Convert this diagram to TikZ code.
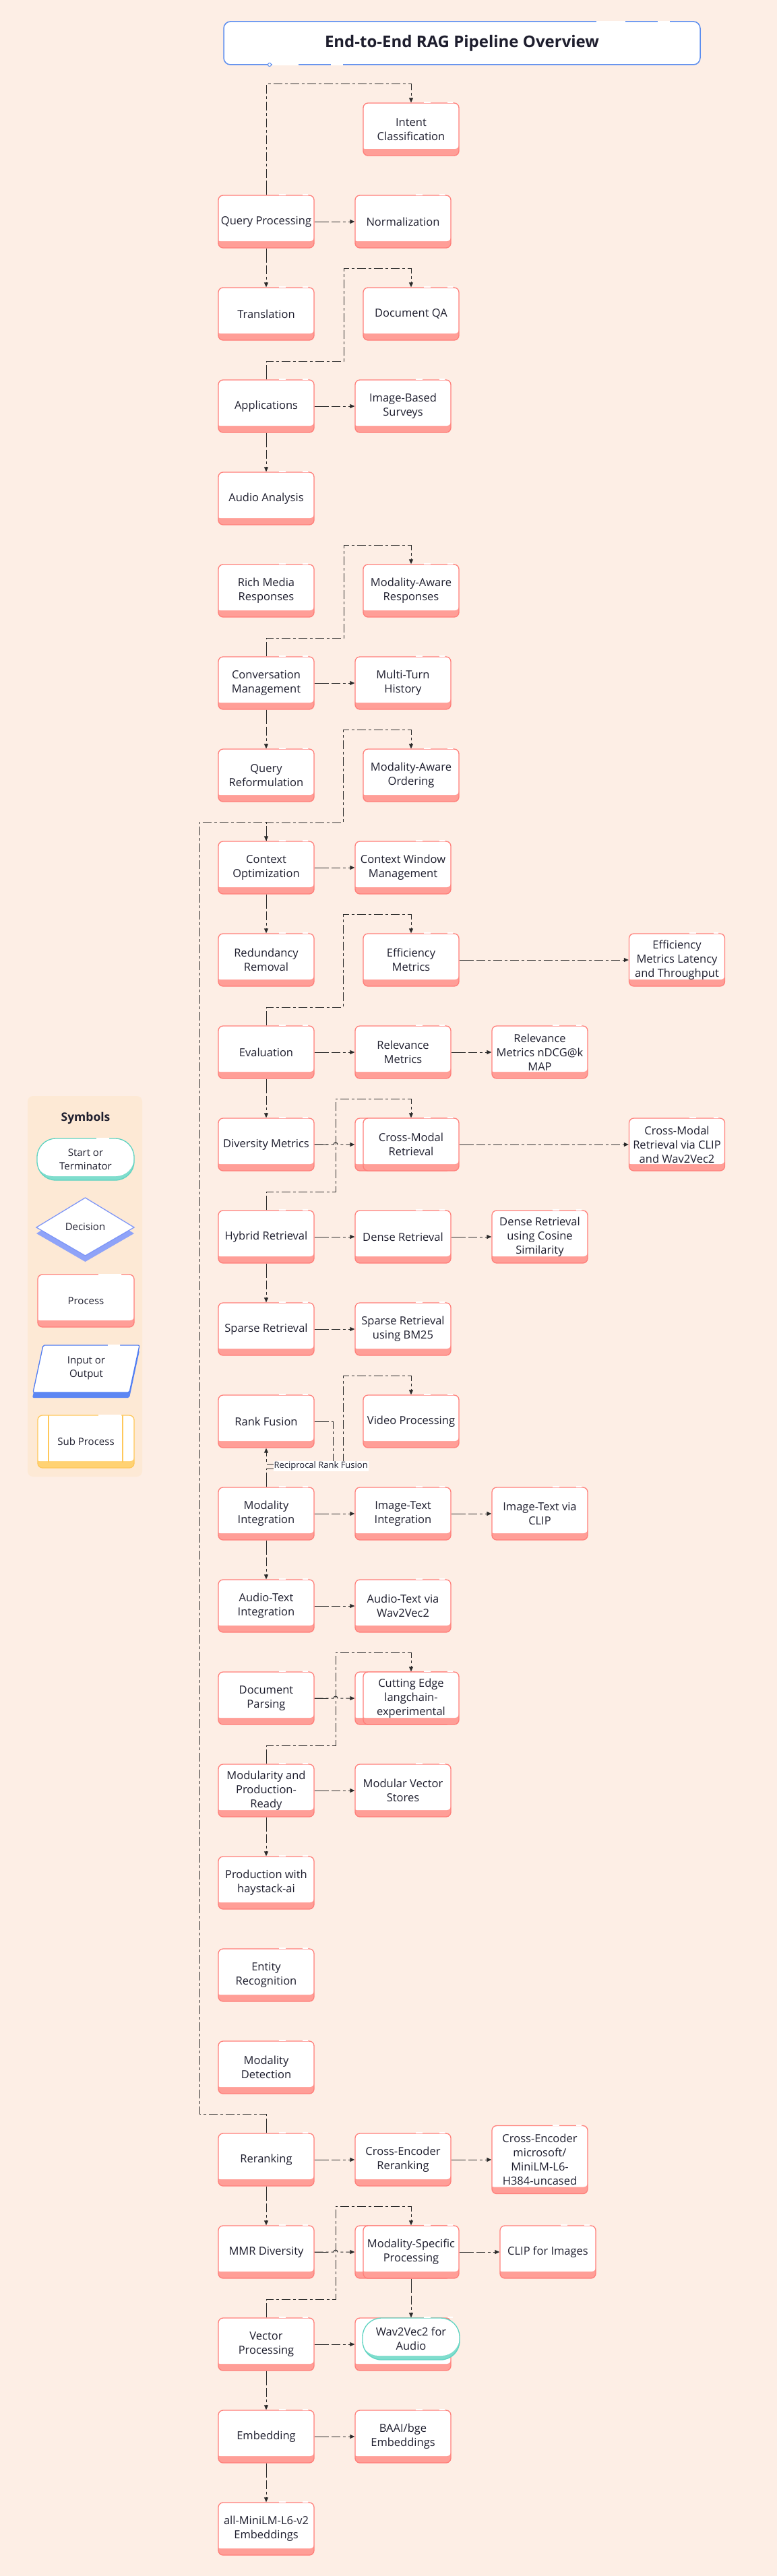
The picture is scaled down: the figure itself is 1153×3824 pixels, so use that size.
\documentclass[tikz,border=0pt]{standalone}
\usepackage{fontspec}
\setmainfont{Open Sans}
\usetikzlibrary{arrows.meta,calc}
\definecolor{bgc}{HTML}{FDEEE5}
\definecolor{panelc}{HTML}{FDE9D5}
\definecolor{procB}{HTML}{FF7F7A}
\definecolor{procS}{HTML}{FF9E97}
\definecolor{tealB}{HTML}{5ED3C1}
\definecolor{tealS}{HTML}{7FDDCD}
\definecolor{decB}{HTML}{7E96F7}
\definecolor{decS}{HTML}{8FA3F8}
\definecolor{ioB}{HTML}{4E7BF2}
\definecolor{ioS}{HTML}{5C86F3}
\definecolor{subB}{HTML}{FFC85A}
\definecolor{subS}{HTML}{FFD273}
\definecolor{titleB}{HTML}{5B8DEF}
\definecolor{lineC}{HTML}{2A2A2A}
\definecolor{txtc}{HTML}{1E1E2E}
\tikzset{
  box/.style={rectangle, rounded corners=7pt, draw=procB, line width=1.3pt, fill=procS,
    minimum width=142pt, minimum height=78pt, inner sep=0pt, align=center, text=txtc,
    font=\fontsize{16.5}{21}\selectfont,
    path picture={\fill[white, rounded corners=6pt] ([shift={(-3pt,3pt)}]path picture bounding box.north west) rectangle ([yshift=10pt]path picture bounding box.south east);}},
  subbox/.style={box, draw=subB, fill=subS, font=\fontsize{15}{20}\selectfont},
  term/.style={rectangle, rounded corners=28pt, draw=tealB, line width=1.3pt, fill=tealS,
    minimum width=144pt, minimum height=62pt, inner sep=0pt, align=center, text=txtc,
    font=\fontsize{16.5}{21}\selectfont,
    path picture={\fill[white, rounded corners=27pt] ([shift={(-3pt,3pt)}]path picture bounding box.north west) rectangle ([yshift=6pt]path picture bounding box.south east);}},
  legtext/.style={align=center, text=txtc, font=\fontsize{15}{20}\selectfont, inner sep=0pt},
  conn/.style={draw=lineC, line width=1pt, dash pattern=on 13pt off 4pt on 4pt off 4pt,
    -{Triangle[length=7pt,width=6pt]},
    postaction={draw=lineC, -, dash pattern=on 20pt off 9000pt}},
  lbl/.style={fill=white, inner sep=1pt, text=txtc, font=\fontsize{13}{15}\selectfont},
  gap/.style={draw=white, line width=1.8pt},
}
\begin{document}
\begin{tikzpicture}[x=1pt,y=-1pt]
\useasboundingbox (0,0) rectangle (1153,3824);
\fill[bgc] (0,0) rectangle (1153,3824);

% title
\node[rectangle, rounded corners=10pt, draw=titleB, line width=1.5pt, fill=white,
  minimum width=707pt, minimum height=64pt, text=txtc,
  font=\fontsize{24}{28}\selectfont\bfseries] (title) at (685.5,64) {End-to-End RAG Pipeline Overview};
\draw[gap] (885,32) -- (928,32) (976,32) -- (994,32) (404,96) -- (443,96) (491,96) -- (509,96);
\draw[titleB, line width=1pt, fill=white] (400,96) circle (2.5pt);

% legend
\fill[panelc, rounded corners=8pt] (41,1627) rectangle (211,2192);
\node[legtext, font=\fontsize{17.5}{20}\selectfont\bfseries] (legtitle) at (127,1660) {Symbols};
\node[term, minimum width=144pt, font=\fontsize{15}{20}\selectfont] (legterm) at (127,1721) {Start or\\Terminator};
\fill[decS] (126.5,1787) -- (199,1831) -- (126.5,1873) -- (54,1831) -- cycle;
\filldraw[fill=white, draw=decB, line width=1.3pt] (126.5,1778) -- (199,1822) -- (126.5,1864) -- (54,1822) -- cycle;
\node[legtext] (legdec) at (126.5,1821) {Decision};
\node[box, minimum width=143pt, font=\fontsize{15}{20}\selectfont] (legproc) at (127.5,1931) {Process};
\fill[ioS, rounded corners=2pt] (64,2005) -- (207,2005) -- (192,2075) -- (48,2075) -- cycle;
\filldraw[fill=white, draw=ioB, line width=1.3pt, rounded corners=2pt] (64,1997) -- (207,1997) -- (192,2067) -- (49,2067) -- cycle;
\node[legtext] (legio) at (128,2031) {Input or\\Output};
\node[subbox, minimum width=143pt] (legsub) at (127.5,2140) {Sub Process};
\draw[subB, line width=1.3pt] (72,2101) -- (72,2171) (182,2101) -- (182,2171);
\draw[gap] (143,1690) -- (162,1690) (160,1997) -- (178,1997) (146,1892) -- (180,1892) (146,2101) -- (180,2101) (160,1801) -- (175,1810);

% main nodes
\node[box] (ic) at (610,192) {Intent\\Classification};
\node[box] (qp) at (395,329) {Query Processing};
\node[box] (norm) at (598,329) {Normalization};
\node[box] (tr) at (395,466) {Translation};
\node[box] (dqa) at (610,466) {Document QA};
\node[box] (ap) at (395,603) {Applications};
\node[box] (ibs) at (598,603) {Image-Based\\Surveys};
\node[box] (aa) at (395,740) {Audio Analysis};
\node[box] (rmr) at (395,877) {Rich Media\\Responses};
\node[box] (mar) at (610,877) {Modality-Aware\\Responses};
\node[box] (cm) at (395,1014) {Conversation\\Management};
\node[box] (mth) at (598,1014) {Multi-Turn\\History};
\node[box] (qr) at (395,1151) {Query\\Reformulation};
\node[box] (mao) at (610,1151) {Modality-Aware\\Ordering};
\node[box] (co) at (395,1288) {Context\\Optimization};
\node[box] (cwm) at (598,1288) {Context Window\\Management};
\node[box] (rr) at (395,1425) {Redundancy\\Removal};
\node[box] (em) at (610,1425) {Efficiency\\Metrics};
\node[box] (eml) at (1004.5,1425) {Efficiency\\Metrics Latency\\and Throughput};
\node[box] (ev) at (395,1562) {Evaluation};
\node[box] (rm) at (598,1562) {Relevance\\Metrics};
\node[box] (rmn) at (801,1562) {Relevance\\Metrics nDCG@k\\MAP};
\node[box] (dm) at (395,1699) {Diversity Metrics};
\node[box] (cmrb) at (598,1699) {};
\node[box] (cmr) at (610,1699) {Cross-Modal\\Retrieval};
\node[box] (cmc) at (1004.5,1699) {Cross-Modal\\Retrieval via CLIP\\and Wav2Vec2};
\node[box] (hr) at (395,1836) {Hybrid Retrieval};
\node[box] (dr) at (598,1836) {Dense Retrieval};
\node[box] (drc) at (801,1836) {Dense Retrieval\\using Cosine\\Similarity};
\node[box] (sr) at (395,1973) {Sparse Retrieval};
\node[box] (srb) at (598,1973) {Sparse Retrieval\\using BM25};
\node[box] (rf) at (395,2110) {Rank Fusion};
\node[box] (vp) at (610,2110) {Video Processing};
\node[box] (mi) at (395,2247) {Modality\\Integration};
\node[box] (iti) at (598,2247) {Image-Text\\Integration};
\node[box] (itc) at (801,2247) {Image-Text via\\CLIP};
\node[box] (ati) at (395,2384) {Audio-Text\\Integration};
\node[box] (atw) at (598,2384) {Audio-Text via\\Wav2Vec2};
\node[box] (dp) at (395,2521) {Document\\Parsing};
\node[box] (ceb) at (598,2521) {};
\node[box] (ce) at (610,2521) {Cutting Edge\\langchain-\\experimental};
\node[box] (mpr) at (395,2658) {Modularity and\\Production-\\Ready};
\node[box] (mvs) at (598,2658) {Modular Vector\\Stores};
\node[box] (ph) at (395,2795) {Production with\\haystack-ai};
\node[box] (er) at (395,2932) {Entity\\Recognition};
\node[box] (md) at (395,3069) {Modality\\Detection};
\node[box] (rk) at (395,3206) {Reranking};
\node[box] (cer) at (598,3206) {Cross-Encoder\\Reranking};
\node[box, minimum height=101pt] (cem) at (801,3206) {Cross-Encoder\\microsoft/\\MiniLM-L6-\\H384-uncased};
\node[box] (mmr) at (395,3343) {MMR Diversity};
\node[box] (mspb) at (598,3343) {};
\node[box] (msp) at (610,3343) {Modality-Specific\\Processing};
\node[box] (cli) at (813,3343) {CLIP for Images};
\node[box] (vec) at (395,3480) {Vector\\Processing};
\node[box] (w2vb) at (598,3480) {};
\node[term] (w2v) at (610,3472) {Wav2Vec2 for\\Audio};
\node[box] (emb) at (395,3617) {Embedding};
\node[box] (bge) at (598,3617) {BAAI/bge\\Embeddings};
\node[box] (aml) at (395,3754) {all-MiniLM-L6-v2\\Embeddings};

% sketchy white gaps in the top borders
\foreach \n in {ic,qp,norm,tr,dqa,ap,ibs,aa,rmr,mar,cm,mth,qr,mao,co,cwm,rr,em,eml,ev,rm,rmn,dm,cmr,cmc,hr,dr,drc,sr,srb,rf,vp,mi,iti,itc,ati,atw,dp,ce,mpr,mvs,ph,er,md,rk,cer,cem,mmr,msp,cli,vec,emb,bge,aml,w2v}{
  \draw[gap] ($(\n.north west)!0.63!(\n.north east)$) -- ($(\n.north west)!0.70!(\n.north east)$)
             ($(\n.north west)!0.88!(\n.north east)$) -- ($(\n.north west)!0.93!(\n.north east)$);
}

% horizontal connectors
\draw[conn] (qp.east) -- (norm.west);
\draw[conn] (ap.east) -- (ibs.west);
\draw[conn] (cm.east) -- (mth.west);
\draw[conn] (co.east) -- (cwm.west);
\draw[conn] (em.east) -- (eml.west);
\draw[conn] (ev.east) -- (rm.west);
\draw[conn] (rm.east) -- (rmn.west);
\draw[conn] (cmr.east) -- (cmc.west);
\draw[conn] (hr.east) -- (dr.west);
\draw[conn] (dr.east) -- (drc.west);
\draw[conn] (sr.east) -- (srb.west);
\draw[conn] (mi.east) -- (iti.west);
\draw[conn] (iti.east) -- (itc.west);
\draw[conn] (ati.east) -- (atw.west);
\draw[conn] (mpr.east) -- (mvs.west);
\draw[conn] (rk.east) -- (cer.west);
\draw[conn] (cer.east) -- (cem.west);
\draw[conn] (msp.east) -- (cli.west);
\draw[conn] (vec.east) -- (w2vb.west);
\draw[conn] (emb.east) -- (bge.west);
% horizontal with hop
\draw[conn] (dm.east) -- (495,1699) arc[start angle=180, end angle=0, radius=3pt] -- (cmrb.west);
\draw[conn] (dp.east) -- (495,2521) arc[start angle=180, end angle=0, radius=3pt] -- (ceb.west);
\draw[conn] (mmr.east) -- (495,3343) arc[start angle=180, end angle=0, radius=3pt] -- (mspb.west);

% vertical connectors
\draw[conn] (qp.south) -- (tr.north);
\draw[conn] (ap.south) -- (aa.north);
\draw[conn] (cm.south) -- (qr.north);
\draw[conn] (co.south) -- (rr.north);
\draw[conn] (ev.south) -- (dm.north);
\draw[conn] (hr.south) -- (sr.north);
\draw[conn] (mi.south) -- (ati.north);
\draw[conn] (mpr.south) -- (ph.north);
\draw[conn] (rk.south) -- (mmr.north);
\draw[conn] (msp.south) -- (w2v.north);
\draw[conn] (vec.south) -- (emb.north);
\draw[conn] (emb.south) -- (aml.north);

% up-and-over connectors
\draw[conn] (qp.north) -- (395,125) -| (ic.north);
\draw[conn] (ap.north) -- (395,536) -| (510,398) -| (dqa.north);
\draw[conn] (cm.north) -- (395,947) -| (510,809) -| (mar.north);
\draw[conn] (co.north) -- (395,1221) -| (509,1083) -| (mao.north);
\draw[conn] (ev.north) -- (395,1495) -| (509,1357) -| (em.north);
\draw[conn] (hr.north) -- (395,1769) -| (498,1631) -| (cmr.north);
\draw[conn] (mpr.north) -- (395,2591) -| (498,2453) -| (ce.north);
\draw[conn] (vec.north) -- (395,3413) -| (498,3275) -| (msp.north);
\draw[conn] (mi.north) -- (395,2180) -| (509,2042) -| (vp.north);
% long connector
\draw[conn] (rk.north) -- (395,3138) -| (296,1220) -| (co.north);
% self loop with label
\draw[conn] (rf.east) -- (494,2110) -- (494,2173) -- node[lbl, pos=0.18, yshift=-3pt] (rflbl) {Reciprocal Rank Fusion} (395,2173) -- (rf.south);
\end{tikzpicture}
\end{document}
